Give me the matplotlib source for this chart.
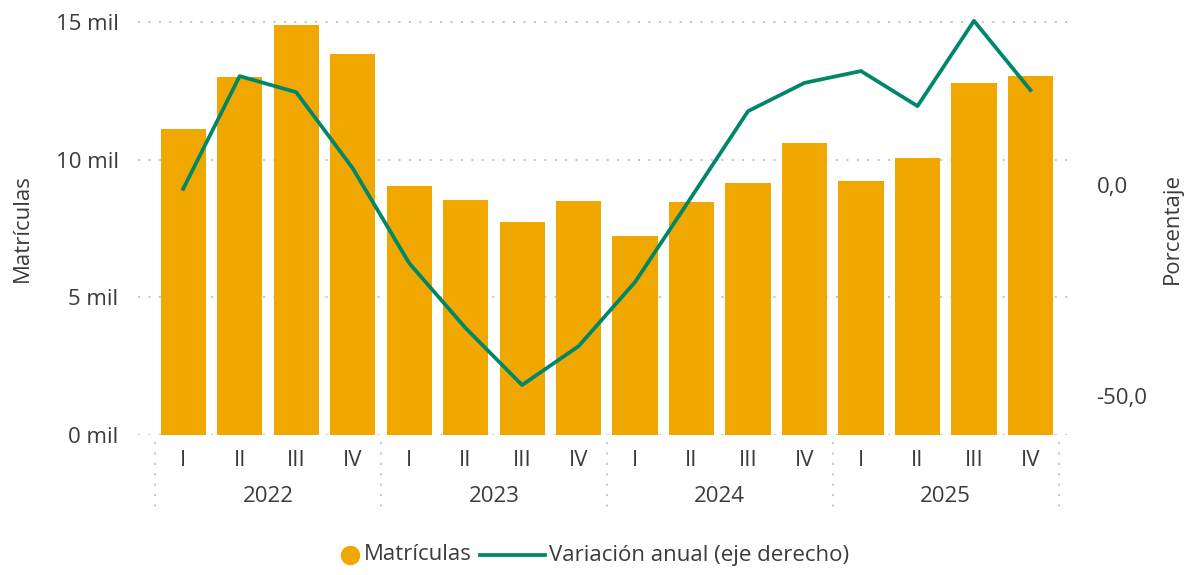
import numpy as np
from matplotlib import pyplot as plt
from matplotlib import transforms as mtrans
from matplotlib.lines import Line2D

plt.rcParams['font.family'] = ['Open Sans', 'DejaVu Sans']

# data
years = ['2022', '2023', '2024', '2025']
quarters = ['I', 'II', 'III', 'IV']
matriculas = [11110, 13000, 14890, 13830,
              9040, 8530, 7730, 8500,
              7230, 8460, 9150, 10600,
              9220, 10060, 12780, 13040]
variacion = [-0.9, 25.8, 22.0, 4.0,
             -18.5, -33.9, -47.4, -38.2,
             -23.0, -2.8, 17.5, 24.2,
             27.0, 18.7, 38.9, 22.5]

bar_col = '#F0A800'
line_col = '#00876A'
txt_col = '#3b3b3b'
grid_col = '#c8c8c8'
fs = 16

W, H = 1186, 575
fig = plt.figure(figsize=(W/100, H/100), dpi=100)
# plot area in pixels: x 138..1070, y 10..435
ax = fig.add_axes([138/W, (H-435)/H, (1070-138)/W, (435-10)/H])

x = np.arange(len(matriculas))
ax.bar(x, matriculas, width=0.8, color=bar_col, zorder=2)
ax.set_xlim(-0.8, 15.7)
ax.set_ylim(0, 15432)
ax.set_yticks([0, 5000, 10000, 15000])
ax.set_yticklabels(['0 mil', '5 mil', '10 mil', '15 mil'])
ax.yaxis.grid(True, linestyle=(0, (1, 4)), color=grid_col, linewidth=1.5)
ax.set_axisbelow(True)
ax.tick_params(axis='y', length=0, pad=14, labelsize=fs, labelcolor=txt_col)
ax.set_xticks([])
for s in ax.spines.values():
    s.set_visible(False)

ax2 = ax.twinx()
ax2.plot(x, variacion, color=line_col, linewidth=2.7, zorder=3, clip_on=False)
ax2.set_ylim(-59.24, 41.47)
ax2.set_yticks([0, -50])
ax2.set_yticklabels(['0,0', '-50,0'])
ax2.tick_params(axis='y', length=0, pad=19, labelsize=fs, labelcolor=txt_col)
for s in ax2.spines.values():
    s.set_visible(False)

# axis titles
fig.text(22/W, 1 - 228/H, 'Matrículas', rotation=90, ha='center', va='center',
         rotation_mode='anchor', fontsize=fs, color=txt_col)
fig.text(1172/W, 1 - 228/H, 'Porcentaje', rotation=90, ha='center', va='center',
         rotation_mode='anchor', fontsize=fs, color=txt_col)

# category axis: quarters, years, separators
tr = mtrans.blended_transform_factory(ax.transData, ax.transAxes)
for i in x:
    ax.text(i, -0.059, quarters[i % 4], transform=tr, ha='center', va='center',
            fontsize=fs, color=txt_col)
for k, yr in enumerate(years):
    ax.text(4*k + 1.5, -0.145, yr, transform=tr, ha='center', va='center',
            fontsize=fs, color=txt_col)
for k in range(len(years) + 1):
    ax.plot([4*k - 0.5, 4*k - 0.5], [-0.017, -0.188], transform=tr, clip_on=False,
            color=grid_col, linestyle=(0, (1, 4)), linewidth=1.5)

# legend drawn by hand so the dot sits next to its text
ly = 1 - 555/H
fig.add_artist(Line2D([350/W], [ly], marker='o', markersize=13, linestyle='none',
                      markerfacecolor=bar_col, markeredgecolor=bar_col))
fig.text(364/W, ly, 'Matrículas', ha='left', va='center', fontsize=fs, color=txt_col)
fig.add_artist(Line2D([480/W, 545/W], [ly, ly], color=line_col, linewidth=2.7))
fig.text(549/W, ly, 'Variación anual (eje derecho)', ha='left', va='center',
         fontsize=fs, color=txt_col)

fig.savefig('out.png', dpi=100)
